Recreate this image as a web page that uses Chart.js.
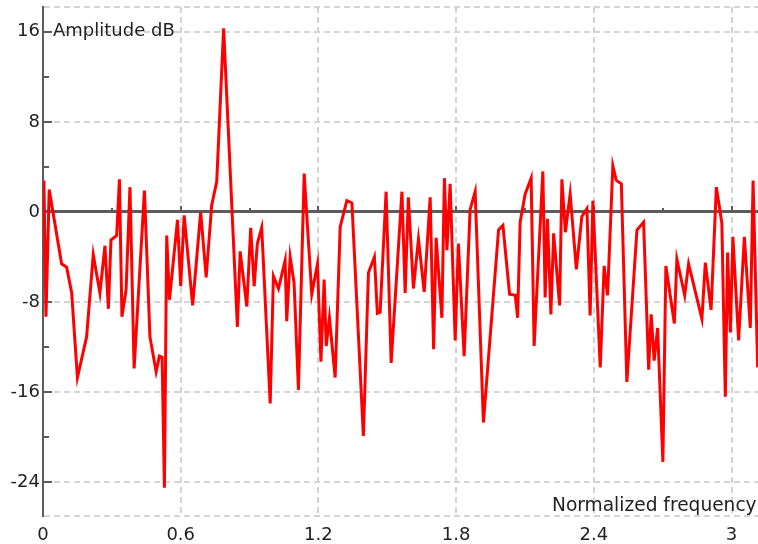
<!DOCTYPE html>
<html>
<head>
<meta charset="utf-8">
<script src="https://cdn.jsdelivr.net/npm/chart.js@4.4.1/dist/chart.umd.min.js"></script>
<style>
  html, body { margin: 0; padding: 0; background: #fff; overflow: hidden; }
  #wrap { width: 764px; height: 544px; }
</style>
</head>
<body>
<div id="wrap"><canvas id="spectrum" width="764" height="544"></canvas></div>
<script>
// Spectrum (normalized frequency, amplitude in dB)
const freq = [
  0.004, 0.013, 0.027, 0.081, 0.103, 0.125, 0.150, 0.190, 0.219, 0.248,
  0.270, 0.285, 0.296, 0.321, 0.333, 0.344, 0.362, 0.379, 0.397, 0.442,
  0.466, 0.493, 0.507, 0.519, 0.529, 0.539, 0.551, 0.586, 0.600, 0.615,
  0.652, 0.687, 0.711, 0.735, 0.757, 0.787, 0.847, 0.859, 0.888, 0.905,
  0.920, 0.934, 0.953, 0.990, 1.004, 1.026, 1.055, 1.062, 1.077, 1.094,
  1.113, 1.138, 1.171, 1.196, 1.211, 1.225, 1.234, 1.248, 1.273, 1.295,
  1.324, 1.346, 1.396, 1.418, 1.444, 1.457, 1.469, 1.495, 1.517, 1.564,
  1.578, 1.592, 1.614, 1.636, 1.661, 1.687, 1.702, 1.713, 1.738, 1.749,
  1.760, 1.774, 1.796, 1.810, 1.835, 1.861, 1.883, 1.919, 1.985, 2.004,
  2.033, 2.058, 2.068, 2.079, 2.101, 2.127, 2.140, 2.178, 2.188, 2.198,
  2.213, 2.225, 2.251, 2.261, 2.276, 2.297, 2.324, 2.348, 2.370, 2.384,
  2.396, 2.428, 2.445, 2.460, 2.483, 2.498, 2.520, 2.544, 2.588, 2.617,
  2.639, 2.650, 2.663, 2.678, 2.701, 2.714, 2.751, 2.762, 2.796, 2.813,
  2.871, 2.886, 2.911, 2.934, 2.958, 2.973, 2.983, 2.995, 3.006, 3.031,
  3.056, 3.082, 3.094, 3.114
];
const ampDb = [
  2.8, -9.3, 2.0, -4.6, -4.9, -7.2, -14.7, -11.1, -3.8, -7.2,
  -3.0, -8.6, -2.5, -2.1, 2.9, -9.3, -6.9, 2.2, -13.9, 1.9,
  -11.1, -14.2, -12.8, -12.9, -24.5, -2.1, -7.8, -0.7, -6.6, -0.3,
  -8.3, 0.0, -5.8, 0.6, 2.7, 16.3, -10.2, -3.5, -8.4, -1.4,
  -6.6, -2.8, -1.4, -17.0, -5.7, -6.8, -4.3, -9.7, -4.0, -6.3,
  -15.8, 3.4, -7.3, -4.6, -13.3, -6.0, -11.9, -9.4, -14.7, -1.3,
  1.0, 0.8, -19.9, -5.4, -4.0, -9.0, -8.9, 1.8, -13.4, 1.8,
  -7.2, 1.3, -6.8, -2.4, -7.1, 1.3, -12.2, -2.3, -9.4, 3.0,
  -3.4, 2.5, -11.4, -2.8, -12.8, 0.2, 1.8, -18.7, -1.6, -1.2,
  -7.3, -7.4, -9.4, -0.9, 1.6, 3.0, -11.9, 3.6, -7.6, -0.6,
  -9.1, -1.9, -8.3, 2.9, -1.8, 1.6, -5.1, -0.4, 0.3, -9.2,
  1.0, -13.8, -4.8, -7.4, 4.1, 2.8, 2.5, -15.1, -1.6, -0.9,
  -14.0, -9.1, -13.2, -10.3, -22.2, -4.8, -9.9, -4.2, -7.4, -4.6,
  -9.5, -4.5, -8.7, 2.2, -1.0, -16.4, -3.6, -10.7, -2.2, -11.4,
  -2.2, -10.3, 2.8, -13.8
];

const xTicks = [0, 0.6, 1.2, 1.8, 2.4, 3];
const xMinorTicks = [0.3, 0.9, 1.5, 2.1, 2.7];
const yTicks = [-24, -16, -8, 0, 8, 16];
const yMinorTicks = [-20, -12, -4, 4, 12];
const yMin = -27;
const yMax = 18.2;

const axisColor = '#5c5c5c';
const gridColor = '#d4d4d4';
const textColor = '#222';
const labelFont = { family: 'DejaVu Sans', size: 18 };

const points = freq.map((f, i) => ({ x: f, y: ampDb[i] }));

// small inward tick marks and the two axis captions
const decorations = {
  id: 'decorations',
  beforeDatasetsDraw(chart) {
    const { ctx, chartArea, scales: { x, y } } = chart;
    const y0 = y.getPixelForValue(0);
    ctx.save();
    ctx.strokeStyle = axisColor;
    ctx.lineWidth = 2;
    ctx.beginPath();
    yTicks.concat(yMinorTicks).forEach(v => {
      const py = Math.round(y.getPixelForValue(v));
      const len = yTicks.includes(v) ? 9 : 6;
      ctx.moveTo(chartArea.left, py);
      ctx.lineTo(chartArea.left + len, py);
    });
    xTicks.concat(xMinorTicks).forEach(v => {
      if (v === 0) return;
      const px = Math.round(x.getPixelForValue(v));
      const len = xTicks.includes(v) ? 6 : 4;
      ctx.moveTo(px, y0);
      ctx.lineTo(px, y0 - len);
    });
    ctx.stroke();
    ctx.restore();
  },
  afterDraw(chart) {
    const { ctx, chartArea, scales: { y } } = chart;
    ctx.save();
    ctx.font = `${labelFont.size}px ${labelFont.family}`;
    ctx.fillStyle = textColor;
    ctx.textBaseline = 'alphabetic';
    ctx.textAlign = 'left';
    ctx.fillText('Amplitude dB', chartArea.left + 10, y.getPixelForValue(16) + 4);
    ctx.font = `18.6px ${labelFont.family}`;
    ctx.fillText('Normalized frequency', chartArea.right - 212, chartArea.bottom - 5);
    ctx.restore();
  }
};

new Chart(document.getElementById('spectrum'), {
  type: 'line',
  data: {
    datasets: [{
      data: points,
      borderColor: '#ff0000',
      borderWidth: 3,
      pointRadius: 0,
      tension: 0,
      fill: false
    }]
  },
  options: {
    responsive: false,
    animation: false,
    layout: { padding: { top: 7, left: 0, right: 0, bottom: 0 } },
    plugins: { legend: { display: false }, tooltip: { enabled: false } },
    scales: {
      x: {
        type: 'linear',
        min: 0,
        max: Math.PI,
        afterBuildTicks: s => { s.ticks = xTicks.map(v => ({ value: v })); },
        afterFit: s => { s.height = 28; s.paddingLeft = 0; s.paddingRight = 0; },
        grid: { color: gridColor, lineWidth: 2, drawTicks: false },
        border: { display: false, dash: [6, 4] },
        ticks: { font: labelFont, color: textColor, padding: 9, maxRotation: 0, callback: v => String(v) }
      },
      y: {
        type: 'linear',
        min: yMin,
        max: yMax,
        afterBuildTicks: s => { s.ticks = [yMin].concat(yTicks, [yMax]).map(v => ({ value: v })); },
        afterFit: s => { s.width = 43; s.paddingTop = 0; s.paddingBottom = 0; },
        grid: {
          color: c => (c.tick && c.tick.value === 0) ? axisColor : gridColor,
          lineWidth: c => (c.tick && c.tick.value === 0) ? 3 : 2,
          drawTicks: false
        },
        border: {
          display: true,
          color: axisColor,
          width: 2,
          dash: c => (c.tick && c.tick.value === 0) ? [] : [6, 4]
        },
        ticks: { font: labelFont, color: textColor, padding: 3, callback: v => yTicks.includes(v) ? String(v) : '' }
      }
    }
  },
  plugins: [decorations]
});
</script>
</body>
</html>
